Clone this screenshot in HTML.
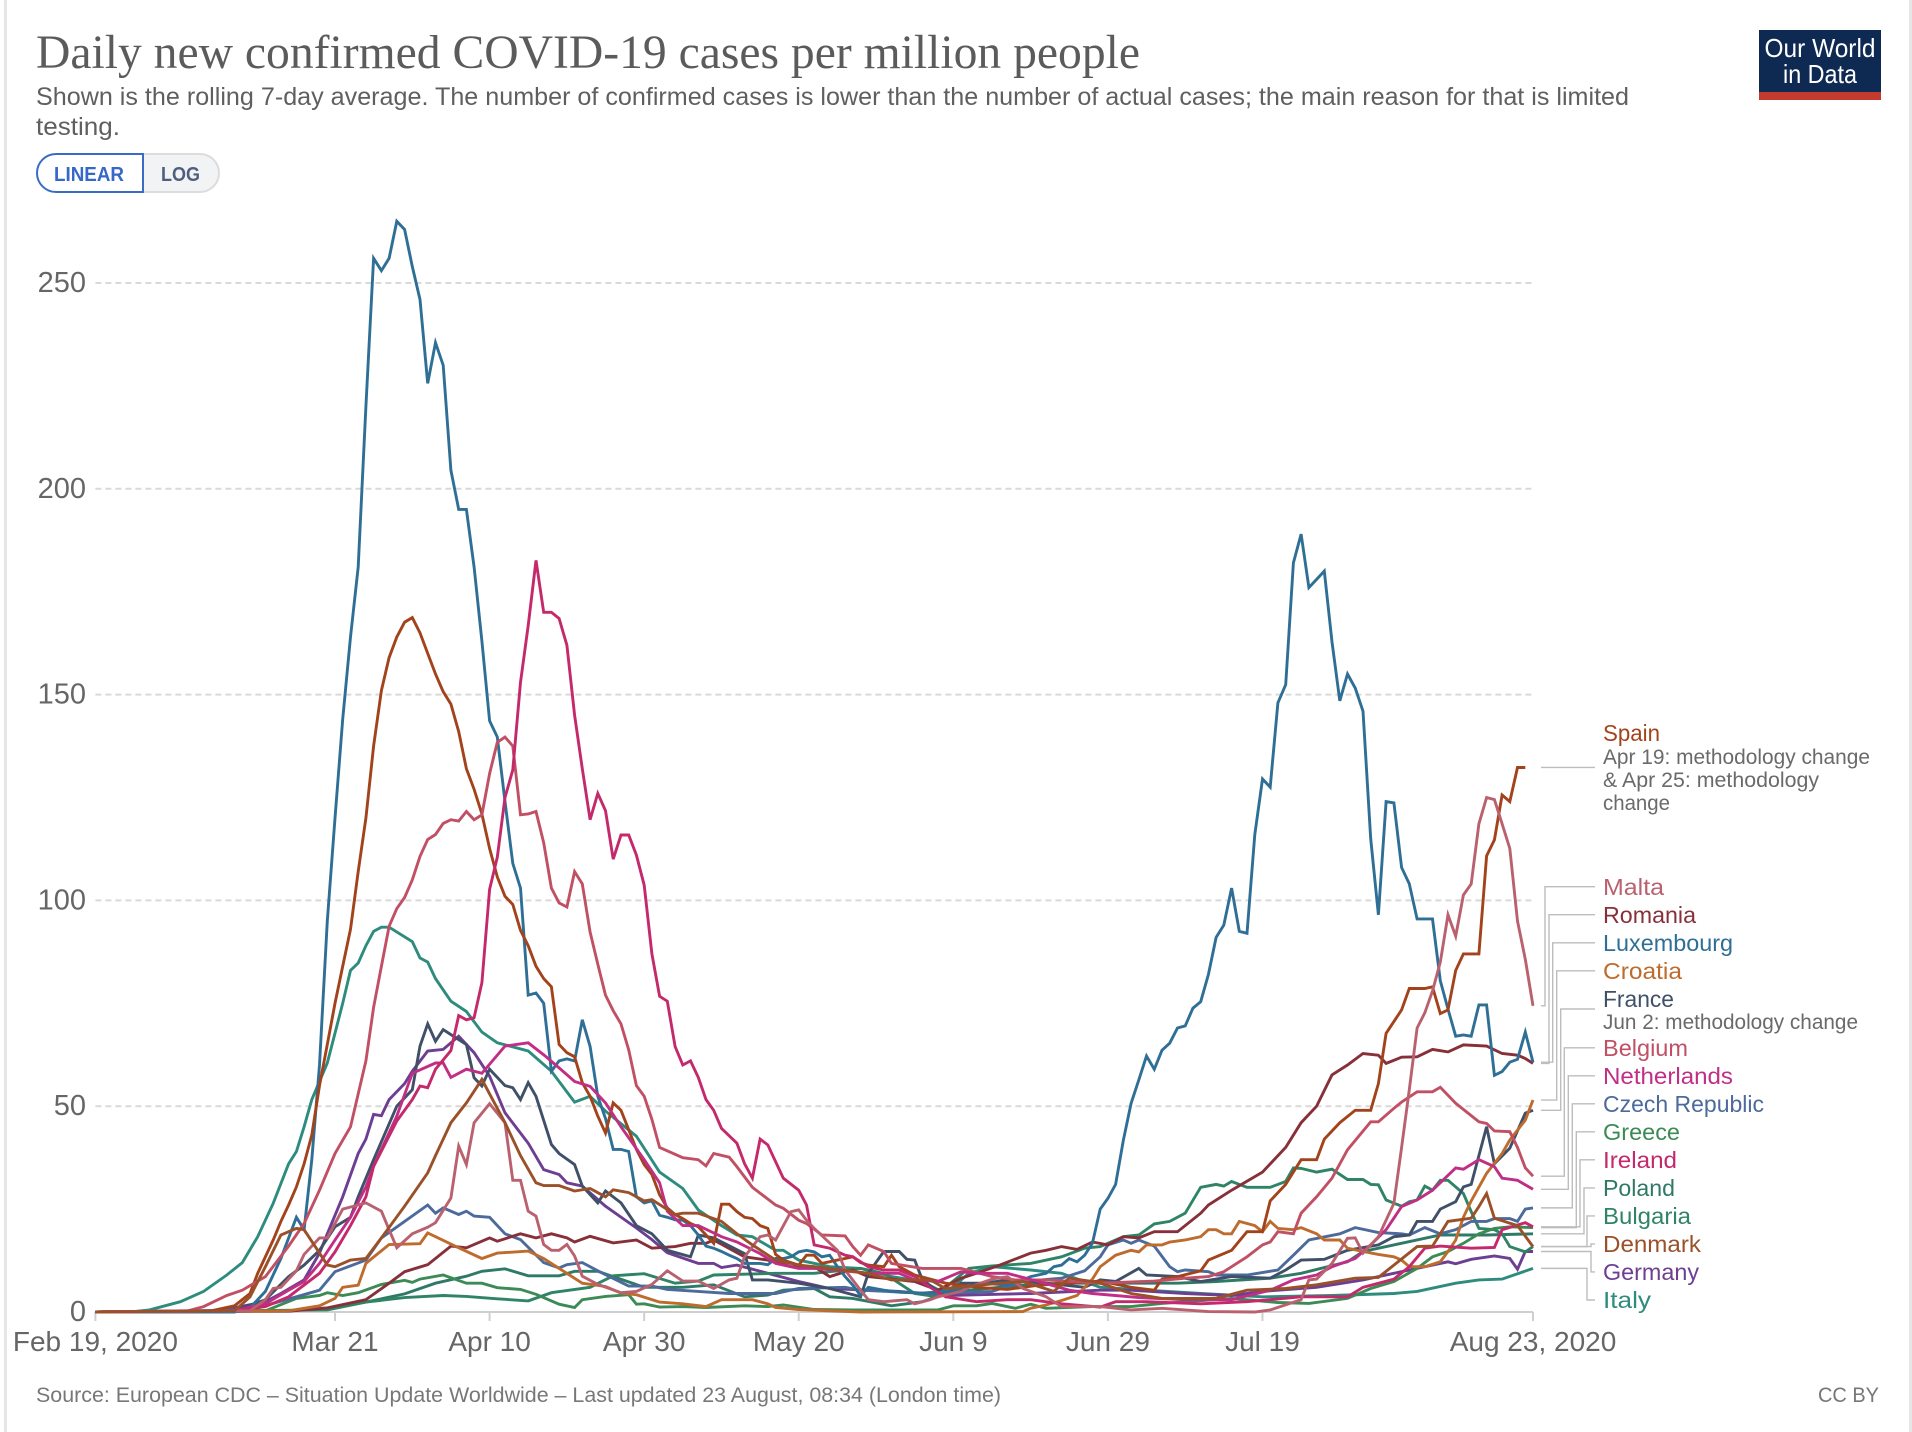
<!DOCTYPE html>
<html lang="en">
<head>
<meta charset="utf-8">
<title>Daily new confirmed COVID-19 cases per million people</title>
<style>
html,body{margin:0;padding:0;background:#fff;width:1912px;height:1432px;overflow:hidden}
svg{display:block}
text{font-family:"Liberation Sans",sans-serif}
.lbl{font-size:23px}
.note{font-size:21px;fill:#6a6a6a}
</style>
</head>
<body>
<svg id="chart" xmlns="http://www.w3.org/2000/svg" width="1912" height="1432" viewBox="0 0 1912 1432">
<rect x="4" y="0" width="3" height="1432" fill="#e6e6e6"/>
<rect x="1909" y="0" width="3" height="1432" fill="#e6e6e6"/>
<text x="36" y="68" font-size="48" textLength="1104" lengthAdjust="spacingAndGlyphs" fill="#5b5b5b" style="font-family:'Liberation Serif',serif">Daily new confirmed COVID-19 cases per million people</text>
<text x="36" y="105" font-size="25" textLength="1593" lengthAdjust="spacingAndGlyphs" fill="#5f5f5f">Shown is the rolling 7-day average. The number of confirmed cases is lower than the number of actual cases; the main reason for that is limited</text>
<text x="36" y="135" font-size="25" textLength="84" lengthAdjust="spacingAndGlyphs" fill="#5f5f5f">testing.</text>
<g>
<path d="M143 154H200a19 19 0 0 1 0 38H143Z" fill="#f2f3f5" stroke="#dcdcdc" stroke-width="2"/>
<path d="M143 154H56a19 19 0 0 0 0 38H143Z" fill="#fff" stroke="#3a6cc6" stroke-width="2"/>
<text x="54" y="181" font-size="20" font-weight="bold" textLength="70" lengthAdjust="spacingAndGlyphs" fill="#3568c9">LINEAR</text>
<text x="161" y="181" font-size="20" font-weight="bold" textLength="39" lengthAdjust="spacingAndGlyphs" fill="#4e5f7e">LOG</text>
</g>
<g>
<rect x="1759" y="30" width="122" height="62" fill="#0e2a52"/>
<rect x="1759" y="92" width="122" height="8" fill="#c23b2e"/>
<text x="1820" y="57" font-size="26" text-anchor="middle" textLength="111" lengthAdjust="spacingAndGlyphs" fill="#fff">Our World</text>
<text x="1820" y="83" font-size="26" text-anchor="middle" textLength="74" lengthAdjust="spacingAndGlyphs" fill="#fff">in Data</text>
</g>
<g id="grid"></g>
<g id="axes"></g>
<g id="connectors"></g>
<g id="series"></g>
<g id="legend">
<text class="lbl" x="1603" y="741" textLength="57" lengthAdjust="spacingAndGlyphs" fill="#a2431c" data-series="spain">Spain</text>
<text class="note" x="1603" y="764" textLength="267" lengthAdjust="spacingAndGlyphs">Apr 19: methodology change</text>
<text class="note" x="1603" y="787" textLength="216" lengthAdjust="spacingAndGlyphs">&amp; Apr 25: methodology</text>
<text class="note" x="1603" y="810" textLength="67" lengthAdjust="spacingAndGlyphs">change</text>
<text class="lbl" x="1603" y="895" textLength="61" lengthAdjust="spacingAndGlyphs" fill="#b9616f" data-series="malta" data-elbow="1545" data-anchor="886.7">Malta</text>
<text class="lbl" x="1603" y="923" textLength="93" lengthAdjust="spacingAndGlyphs" fill="#883039" data-series="romania" data-elbow="1549" data-anchor="914.7">Romania</text>
<text class="lbl" x="1603" y="951" textLength="130" lengthAdjust="spacingAndGlyphs" fill="#2f6f96" data-series="luxembourg" data-elbow="1552.7" data-anchor="942.8">Luxembourg</text>
<text class="lbl" x="1603" y="979" textLength="79" lengthAdjust="spacingAndGlyphs" fill="#be6b2e" data-series="croatia" data-elbow="1556.7" data-anchor="970.8">Croatia</text>
<text class="lbl" x="1603" y="1007" textLength="71" lengthAdjust="spacingAndGlyphs" fill="#3f5068" data-series="france" data-elbow="1560.7" data-anchor="1009">France</text>
<text class="note" x="1603" y="1029" textLength="255" lengthAdjust="spacingAndGlyphs">Jun 2: methodology change</text>
<text class="lbl" x="1603" y="1056" textLength="85" lengthAdjust="spacingAndGlyphs" fill="#c15065" data-series="belgium" data-elbow="1564.3" data-anchor="1047.8">Belgium</text>
<text class="lbl" x="1603" y="1084" textLength="130" lengthAdjust="spacingAndGlyphs" fill="#c02f85" data-series="netherlands" data-elbow="1568.3" data-anchor="1075.8">Netherlands</text>
<text class="lbl" x="1603" y="1112" textLength="161" lengthAdjust="spacingAndGlyphs" fill="#4c6a9c" data-series="czech" data-elbow="1572.3" data-anchor="1103.8">Czech Republic</text>
<text class="lbl" x="1603" y="1140" textLength="77" lengthAdjust="spacingAndGlyphs" fill="#3c8a55" data-series="greece" data-elbow="1576.3" data-anchor="1131.8">Greece</text>
<text class="lbl" x="1603" y="1168" textLength="74" lengthAdjust="spacingAndGlyphs" fill="#c4296b" data-series="ireland" data-elbow="1580" data-anchor="1159.8">Ireland</text>
<text class="lbl" x="1603" y="1196" textLength="72" lengthAdjust="spacingAndGlyphs" fill="#2f7a66" data-series="poland" data-elbow="1584" data-anchor="1187.9">Poland</text>
<text class="lbl" x="1603" y="1224" textLength="88" lengthAdjust="spacingAndGlyphs" fill="#2f8465" data-series="bulgaria" data-elbow="1587" data-anchor="1215.9">Bulgaria</text>
<text class="lbl" x="1603" y="1252" textLength="98" lengthAdjust="spacingAndGlyphs" fill="#9a5129" data-series="denmark" data-elbow="1591" data-anchor="1243.9">Denmark</text>
<text class="lbl" x="1603" y="1280" textLength="96" lengthAdjust="spacingAndGlyphs" fill="#6d3e91" data-series="germany" data-elbow="1591" data-anchor="1271.9">Germany</text>
<text class="lbl" x="1603" y="1308" textLength="48" lengthAdjust="spacingAndGlyphs" fill="#2d8c7d" data-series="italy" data-elbow="1587" data-anchor="1300">Italy</text>
</g>
<text x="36" y="1402" font-size="21" textLength="965" lengthAdjust="spacingAndGlyphs" fill="#777">Source: European CDC – Situation Update Worldwide – Last updated 23 August, 08:34 (London time)</text>
<text x="1879" y="1402" font-size="21" text-anchor="end" textLength="61" lengthAdjust="spacingAndGlyphs" fill="#777">CC BY</text>
</svg>
<script>
const xTickDays = [0, 31, 51, 71, 91, 111, 131, 151, 186];
const xTickLabels = ["Feb 19, 2020", "Mar 21", "Apr 10", "Apr 30", "May 20", "Jun 9", "Jun 29", "Jul 19", "Aug 23, 2020"];
const yTickValues = [0, 50, 100, 150, 200, 250];

const spainDays = [0,15,18,20,21,22,23,24,25,26,27,28,29,30,31,32,33,34,35,36,37,38,39,40,41,42,43,44,45,46,47,48,49,50,51,52,53,54,55,56,57,58,59,60,61,62,63,64,65,66,67,68,69,70,71,72,73,74,75,76,77,78,79,80,81,82,83,84,85,86,87,88,89,91,92,93,94,96,97,98,99,100,102,103,104,106,110,114,118,122,126,130,134,137,138,140,143,144,147,149,151,152,154,156,158,159,161,163,165,166,167,169,170,172,173,174,175,176,177,179,180,181,182,183,184,185];
const spainValues = [0,0.3,1.5,4.5,9.4,13.4,17.5,22,26,30.4,36,43,55,65,75,84,93,107,120,137.5,151,159,164,167.6,168.7,165,160,155,150.7,147.7,141,132,127,121,112.6,105.7,101,99,92.7,89,84,81,79,65,63,62,55.7,52.4,47.6,43.5,50.8,49,44.3,39.5,35.8,33.4,28.5,25.3,23.7,22.7,21.5,20.7,18.7,16.7,26.2,26.2,24.4,23,22.7,21,20.3,14,12.6,11.4,13.8,13.8,11.8,12.6,13,13.4,12,11.4,11,13.8,11,9,7,6,5.5,6.5,7,7.5,6,5.3,8,8.6,10,12.6,15,19.5,19.5,27,31,37,37,42,46,49,49,55.5,67.7,73.4,78.6,78.6,79,72.5,73.4,83,87,87,110.8,114.7,125.6,124,132.3,132.3];

const maltaDays = [0,20,22,23,24,26,27,29,30,32,34,35,37,38,39,41,43,44,46,47,48,49,51,53,54,55,56,57,58,59,60,61,62,63,65,68,70,72,74,76,78,80,82,83,84,86,87,88,90,91,92,93,96,97,99,100,102,105,106,108,109,112,113,116,118,120,123,125,128,130,134,138,144,150,152,156,157,158,160,162,163,164,166,168,169,170,171,172,173,174,175,176,177,178,179,180,181,182,183,184,185,186];
const maltaValues = [0,0.3,3,5.7,6,10,14,18,18,25,26,26.5,24.5,20,15.6,19,20.6,21.7,27.7,40.3,35.8,46,50.6,46,32,32,24.5,23.3,16.4,15,15,16.4,13.6,8.7,6.7,4.7,5,6.7,10,7.5,7.5,5.7,7.8,8.2,13.4,18.3,18.7,17.5,24.4,24.8,22.3,20.3,15,10.2,5.3,3,2.5,3,2,3,3.7,5,6,8,8.6,5.7,3.7,1.3,1.3,1.3,0.5,0.9,0.1,0,0.5,3,7.8,8,11.8,17.9,18,14.3,18.3,26.4,40,54,69,72.7,78,85,96.5,91.3,101.3,104,118.6,125,124.5,118.6,112.6,95,85.7,74.4];

const romaniaDays = [0,25,30,35,38,40,43,46,48,51,52,55,57,59,61,62,64,67,70,72,75,77,79,80,84,87,90,93,95,97,98,100,102,106,109,112,114,117,121,123,125,127,129,131,133,135,137,140,143,144,147,151,154,156,158,160,162,164,166,167,169,171,173,175,177,180,182,184,185,186];
const romaniaValues = [0,0.2,1,3,7,9.8,11.5,16,15.6,18,17.2,19,18,19,18,17,18.4,16.8,17.5,15.5,15.9,16.7,16.7,17.5,13.4,12.6,11,11,8.6,9.8,10.2,8.6,8.2,7.4,5.3,8.2,9.4,11.4,14.3,15,15.9,15.2,17,16.3,18.3,18,19.5,19.5,24,26,29.6,34,40,46,50,57.6,60,62.8,62.4,60.4,61.9,62,63.8,63.2,64.9,64.6,62.8,62.4,61.6,60.4];

const luxembourgDays = [0,18,20,22,24,26,27,28,29,30,31,32,33,34,35,36,37,38,39,40,41,42,43,44,45,46,47,48,49,50,51,52,53,54,55,56,57,58,59,60,61,62,63,64,65,66,67,68,69,70,71,72,73,74,75,76,77,78,79,80,81,82,83,84,85,86,87,88,89,90,91,92,93,94,95,96,97,98,99,100,102,104,107,110,113,115,118,120,121,123,124,125,126,127,128,129,130,131,132,133,134,135,136,137,138,139,140,141,142,143,144,145,146,147,148,149,150,151,152,153,154,155,156,157,158,159,160,161,162,163,164,165,166,167,168,169,170,171,172,173,174,175,176,177,178,179,180,181,182,183,184,185,186];
const luxembourgValues = [0,0,1,5,13,23,20,37,60,95,120,144,164,181,220,256,253,256,265,263,254,246,225.6,235.5,230,204.5,195,195,181,163,143.6,139.7,124,109,103,77,77.5,75,58.5,61,61.5,61,71,64.5,52.4,47,39.5,39.5,39,28,26.5,27,23.5,23,22.4,22.3,21,18.7,16,15.5,14.7,13.8,13,11.8,11.8,11.8,11.5,13,13,13.4,14.6,15,14.6,13.4,13.8,11,8.6,6.5,4,6,5.3,4.8,4.6,5,6,7,6.5,7.8,8.6,9.4,11,11.4,13,12.2,13.8,16.7,25,27.6,31,41.8,50.7,56.4,62.2,59,63.6,65.3,69,69.5,73.8,75.4,82,91,94,103,92.5,92,116,129.5,127.5,148,152.4,182,189,176,178,180,162.8,148.5,155,151.6,146,115,96.5,124,123.7,108,104,95.5,95.5,95.5,80.5,73.6,67,67.3,67,74.6,74.6,57.5,58.4,60.7,61.4,68,60.7];

const croatiaDays = [0,25,29,31,32,34,35,38,42,43,47,50,52,56,58,60,63,66,68,70,73,76,79,81,85,87,88,91,99,120,121,123,125,127,129,130,132,134,135,136,138,139,141,143,144,145,146,147,148,150,151,152,153,155,156,158,159,161,162,164,166,168,169,170,172,174,175,176,177,178,180,182,183,185,186];
const croatiaValues = [0,0.3,1.5,3.3,6,6.5,11.8,16.4,16.6,19.2,15.6,13,14.3,14.8,13,10.6,7,6.2,4.6,4.2,2.4,2,1.3,3,3,2,1.1,0.6,0,0.1,0.9,1.7,2.8,4,8,11,13.8,15,14.6,16.3,16.3,17,17.5,18.3,20,20,19,19,22,21,19.5,22,20.3,20,20.5,19,17.5,17.5,15.5,14.7,14,13.4,12.6,11,11,12.2,14.7,17.5,23,27,33.7,38.5,41.8,46.6,51.5];

const franceDays = [0,18,22,25,27,29,31,33,34,36,39,41,42,43,44,45,48,49,50,51,53,54,55,56,57,59,60,62,63,65,66,68,70,72,74,77,78,80,84,85,87,91,95,99,100,102,104,105,106,107,110,112,115,118,121,125,128,130,132,135,136,140,143,147,152,154,156,159,162,166,168,170,171,173,174,176,177,178,180,181,183,185,186];
const franceValues = [0,0.3,3,8.6,11.4,15,20.7,23,28,37,50,54,64.6,70,65.8,68.6,65,56.9,54.9,59,55,54.5,51.6,55.7,52.4,40.7,38.5,35.8,30.6,26.5,29.4,26.5,21,19,15,13.4,18.7,18,14.2,7.8,7.8,7,5.7,3.7,9.4,14.7,14.7,12.8,12.6,7.8,3.7,7,7,7.8,7.4,6.6,6,7.8,7.4,10.6,9,8.6,7.4,8.6,8.2,10.2,12.6,12.8,15,16.3,18.3,18.7,22,22,25,26.8,30.4,31,45,36,39.8,48.3,49];

const belgiumDays = [0,12,14,17,19,22,25,27,29,31,33,35,36,37,38,39,40,41,42,43,44,45,46,47,48,49,50,51,52,53,54,55,56,57,58,59,60,61,62,63,64,65,66,67,68,69,70,71,72,73,76,78,79,80,82,83,85,88,89,91,92,94,97,98,99,100,102,103,107,112,116,119,123,130,137,141,144,146,149,151,152,153,155,156,158,160,162,165,166,168,169,171,173,174,176,179,180,181,183,184,185,186];
const belgiumValues = [0,0.3,1.3,4,5.3,8.6,16,21.5,29.6,38.5,45,61,74,84,93.7,98,100.7,105,110.7,114.8,116,118.7,119.6,119.3,121.6,119.6,120.8,130.8,138.4,139.7,137.5,120.8,121,121.6,114,103,99.4,98.4,107,104,92.3,84.5,77,73.2,70,63.7,55,52.4,46.8,40,37.5,37,35.5,38.5,37.6,35.3,30.3,26,25.2,22.3,21.5,18.7,18.5,15.9,13.8,16.3,14.7,11.8,10.6,10.6,8.6,7.8,7.8,7,7.5,8.2,8.6,9.8,13.4,16.3,17,19.5,19,24,28,32.5,39.4,46.2,46.2,49.5,51,53.5,53.5,54.6,50.7,46.2,45.8,44,43.8,40,35,33];

const netherlandsDays = [0,18,22,25,27,29,31,33,35,36,39,41,44,45,46,48,50,53,56,58,60,62,64,66,68,71,73,74,76,78,81,83,86,88,91,93,96,100,104,106,109,112,114,118,122,126,129,135,141,147,152,155,158,160,163,165,167,169,171,173,176,177,179,181,182,184,186];
const netherlandsValues = [0,0.3,2,5.3,7.4,11.8,17.5,23,30.4,35.4,47.6,58,60.5,60.5,57,59,58,64.6,65.4,62.5,59.3,56,54.8,50.8,45,37,31.4,24.5,21,21,18.3,17,14.2,11.8,10.6,10.6,10.2,9.4,9.4,7.8,7.4,9.8,9.4,9.4,7.4,5.3,4.5,3.5,3,3,5.3,7.8,9,11,13,16.3,20,25.6,27.2,29.6,35,34.7,37,35.3,32.5,32,29.8];

const czechDays = [0,20,26,29,31,35,37,40,43,44,45,47,48,49,51,53,55,58,60,61,63,65,69,72,74,78,82,88,91,97,99,108,116,120,125,128,130,131,133,134,135,137,139,140,141,144,145,149,153,155,157,161,163,166,169,170,172,174,176,178,180,181,183,184,185,186];
const czechValues = [0,0.5,3.7,5.3,9.8,12.6,18,22,26,24,25.3,23.7,24.5,23.3,23,19,17.6,12,10.7,11.5,12,10,6.3,6.3,5.5,5,4.5,4.5,5.7,6,5.3,4.5,5,7.4,8.2,10,13.4,16.3,17.5,16.7,17.5,16,11,9.8,10.2,9.8,9,9,10.2,13.8,17.5,19,20.5,19.3,19,18.7,20.5,19,20,22,22,22.7,22.7,22,25,25.3];

const greeceDays = [0,22,26,29,30,32,34,37,40,41,42,45,48,50,52,55,57,60,62,63,66,69,70,71,73,76,79,84,87,89,93,98,109,111,114,116,119,121,123,129,134,138,147,153,157,162,165,168,171,173,175,177,179,181,183,186];
const greeceValues = [0,0.3,3.3,4,4.7,4,4.7,6.7,7.7,7.2,8,9,7,7,5.9,5.5,4.3,1.9,1.1,3,3.8,4.2,1.9,2,1.2,1.3,1.1,1.5,1.3,1.7,0.6,0.5,0.5,1.5,1.5,2.1,0.9,1.9,0.9,1.3,1.3,2.1,3.3,2.3,2.1,3.3,5.7,7.4,10.6,13.4,14.7,16.7,19,20.3,20.7,20.5];

const irelandDays = [0,18,22,25,29,31,33,35,36,39,41,42,43,44,46,47,48,49,50,51,52,53,54,55,56,57,58,59,60,61,62,63,64,65,66,67,68,69,70,71,72,73,74,75,76,77,78,79,80,81,83,84,85,86,87,89,91,92,93,95,97,98,100,102,104,106,108,110,114,118,121,125,130,132,136,143,149,156,162,164,168,170,172,174,178,181,182,185,186];
const irelandValues = [0,0.3,1.3,3.7,9.4,14.6,21,28,35.4,46.4,51.6,54.9,54.5,59,63.5,72,71,71.5,80,102.7,110.5,125,131.7,153,166.8,182.6,170,170,168.5,162,145,132,119.6,126,121.8,110,115.9,115.9,111,103.7,87,76.7,75.5,64.5,60,61,57,51.6,49,44.6,41,36,32.5,42,40.6,32.5,29.6,26,16.3,15.5,13.8,13.4,11,10.2,10.2,8.6,6,3.7,2.5,3,3,2,1.2,2.5,2.5,2,2.5,3.7,3.7,6,8,11,15.5,16,15.5,15.7,20,21.7,20.7];

const polandDays = [0,25,30,35,40,44,48,50,53,56,60,62,65,67,71,76,80,84,87,89,93,95,98,103,107,110,114,120,125,130,135,140,145,152,156,162,164,168,174,180,186];
const polandValues = [0,0.3,1,2.4,4.4,7,8.7,9.9,10.5,8.8,8.8,9.9,9.9,8.6,6,6,6.6,3.7,4.1,5.3,5.7,3.7,3.3,1.5,2.5,4.5,5.5,6.5,7,7,7,7,7.4,8.2,9.4,12.2,14.7,16.3,18.7,18.7,19];

const bulgariaDays = [0,30,35,40,45,48,52,56,59,64,67,71,75,78,80,88,93,99,102,106,109,110,113,116,121,125,128,130,133,135,137,139,141,143,145,146,147,149,152,154,155,156,158,160,162,164,165,166,167,169,170,171,172,173,174,175,177,178,179,181,182,183,185,186];
const bulgariaValues = [0,0.5,2.4,3.5,4,3.8,3.2,2.7,4.7,6,8.8,9.3,7,7.5,9,9.4,9.4,10.6,9.4,4.5,3.7,6,10.6,11.2,11.8,13.4,15.5,15.9,18.3,18.7,21.4,22,24,30.3,31,30.6,31.7,30.3,30.3,31.7,35,34.9,34,34.7,32.2,32.2,31,30.9,27.2,25.7,26.8,27.2,30.6,29.6,32,32,28.8,24.4,20.3,20,19,15.9,14.6,15.9];

const denmarkDays = [0,18,20,22,24,26,27,29,30,31,33,35,37,40,43,44,46,48,50,51,53,55,57,58,60,62,64,66,67,69,71,72,75,76,78,81,83,85,88,91,95,100,103,108,110,117,120,124,126,129,130,134,138,145,149,154,158,163,166,168,171,173,175,178,179,180,181,184,186];
const denmarkValues = [0,0.3,3.7,11,18.7,20.3,20,14.3,11.4,11,12.6,13,18,25.7,33.8,38,46,50.8,56.5,53,46,38,31.4,30.7,30.7,29.4,30,28,29.7,29,27,27.3,23.7,24,24,22,19,16.3,12.6,11.4,10.6,9.4,7.8,7.8,5.7,7,7.4,5,8.2,7.4,7,4.5,3.3,3.3,5.3,5.7,6.6,8.2,8.4,11.4,15.9,16,22,22.8,25.6,28.8,22.8,21,15.9];

const germanyDays = [0,16,22,24,27,29,30,32,34,35,36,37,38,40,41,43,45,47,49,51,53,56,58,60,61,63,66,70,72,74,78,80,81,83,87,91,95,100,104,110,121,130,134,141,147,151,158,164,168,173,175,176,178,181,183,184,185,186];
const germanyValues = [0,0.3,2.5,4.5,7.8,14.3,19,28,38.5,42,48,47.7,51.6,55.5,58.5,63.4,63.8,67,63,57.3,48.4,41,34.6,33.4,31.4,30.6,25.7,20.4,17.6,14.4,11.8,11.8,10.8,11.4,9.4,7.4,5.7,5.3,5,4,4.5,5.3,5.3,4.5,4,5,6,7.8,9.4,11.4,12.2,11.7,12.8,13.6,13,10.4,14.7,14.7];

const italyDays = [0,5,7,11,14,17,19,21,23,25,26,27,28,30,32,33,34,35,36,37,38,41,42,43,44,46,48,50,52,56,59,62,64,66,70,73,76,78,81,83,85,88,89,91,95,99,103,107,110,113,116,121,125,130,143,151,160,168,171,176,179,182,186];
const italyValues = [0,0.1,0.5,2.5,5,9,12,18.3,26.4,36,39,45,51.6,60.5,75,83,84.8,89,92.5,93.5,93.5,90,86,85,81,75.5,73,68,65.4,63.4,58.5,51,52.4,48.8,42.7,34,30,24.8,21,18.7,18.3,15,15,12.6,11,10.6,8.6,7.4,4.5,9.4,11,10.2,9.4,6,4.5,3.7,4,4.5,5,7,7.8,8,10.6];

const NS = 'http://www.w3.org/2000/svg';
const dayDomainEnd = 186;
function xScale(day) { return 95.4 + (day / dayDomainEnd) * (1533 - 95.4); }
function yScale(value) { return 1312 - value * 4.116; }

const seriesList = [
  { key: 'italy', color: '#2d8c7d', days: italyDays, values: italyValues },
  { key: 'germany', color: '#6d3e91', days: germanyDays, values: germanyValues },
  { key: 'poland', color: '#2f7a66', days: polandDays, values: polandValues },
  { key: 'bulgaria', color: '#2f8465', days: bulgariaDays, values: bulgariaValues },
  { key: 'greece', color: '#3c8a55', days: greeceDays, values: greeceValues },
  { key: 'czech', color: '#4c6a9c', days: czechDays, values: czechValues },
  { key: 'romania', color: '#883039', days: romaniaDays, values: romaniaValues },
  { key: 'france', color: '#3f5068', days: franceDays, values: franceValues },
  { key: 'croatia', color: '#be6b2e', days: croatiaDays, values: croatiaValues },
  { key: 'luxembourg', color: '#2f6f96', days: luxembourgDays, values: luxembourgValues },
  { key: 'spain', color: '#a2431c', days: spainDays, values: spainValues },
  { key: 'belgium', color: '#c15065', days: belgiumDays, values: belgiumValues },
  { key: 'netherlands', color: '#c02f85', days: netherlandsDays, values: netherlandsValues },
  { key: 'ireland', color: '#c4296b', days: irelandDays, values: irelandValues },
  { key: 'malta', color: '#b9616f', days: maltaDays, values: maltaValues },
  { key: 'denmark', color: '#9a5129', days: denmarkDays, values: denmarkValues }
];

const gridGroup = document.getElementById('grid');
const axesGroup = document.getElementById('axes');
const seriesGroup = document.getElementById('series');
const connectorGroup = document.getElementById('connectors');

yTickValues.forEach(function (value) {
  if (value > 0) {
    const line = document.createElementNS(NS, 'line');
    line.setAttribute('x1', 95.4);
    line.setAttribute('x2', 1533);
    line.setAttribute('y1', yScale(value));
    line.setAttribute('y2', yScale(value));
    line.setAttribute('stroke', '#d9d9d9');
    line.setAttribute('stroke-width', '2');
    line.setAttribute('stroke-dasharray', '6 4');
    
    
    gridGroup.appendChild(line);
  }
  const label = document.createElementNS(NS, 'text');
  label.setAttribute('x', 86);
  label.setAttribute('y', yScale(value) + 9);
  label.setAttribute('text-anchor', 'end');
  label.setAttribute('font-size', '29');
  label.setAttribute('fill', '#666');
  label.textContent = String(value);
  
  
  axesGroup.appendChild(label);
});

const xAxisLine = document.createElementNS(NS, 'line');
xAxisLine.setAttribute('x1', xScale(0));
xAxisLine.setAttribute('x2', xScale(dayDomainEnd));
xAxisLine.setAttribute('y1', 1312);
xAxisLine.setAttribute('y2', 1312);
xAxisLine.setAttribute('stroke', '#cfcfcf');
xAxisLine.setAttribute('stroke-width', '2');


axesGroup.appendChild(xAxisLine);

xTickDays.forEach(function (day, i) {
  const tick = document.createElementNS(NS, 'line');
  tick.setAttribute('x1', xScale(day));
  tick.setAttribute('x2', xScale(day));
  tick.setAttribute('y1', 1312);
  tick.setAttribute('y2', 1321);
  tick.setAttribute('stroke', '#cfcfcf');
  tick.setAttribute('stroke-width', '2');
  
  
  axesGroup.appendChild(tick);
  const label = document.createElementNS(NS, 'text');
  label.setAttribute('x', xScale(day));
  label.setAttribute('y', 1351);
  label.setAttribute('text-anchor', 'middle');
  label.setAttribute('font-size', '28');
  label.setAttribute('fill', '#666');
  label.textContent = xTickLabels[i];
  
  
  axesGroup.appendChild(label);
});

seriesList.forEach(function (s) {
  const n = Math.min(s.days.length, s.values.length);
  let d = '';
  for (let i = 0; i < n; i++) {
    d += (i ? 'L' : 'M') + xScale(s.days[i]).toFixed(1) + ' ' + yScale(s.values[i]).toFixed(1);
  }
  const path = document.createElementNS(NS, 'path');
  path.setAttribute('d', d);
  path.setAttribute('fill', 'none');
  path.setAttribute('stroke', s.color);
  path.setAttribute('stroke-width', '2.9');
  path.setAttribute('stroke-linejoin', 'miter');
  
  
  seriesGroup.appendChild(path);

  const entry = document.querySelector('#legend [data-series="' + s.key + '"]');
  if (!entry) return;
  const startY = yScale(s.values[n - 1]);
  const elbow = entry.getAttribute('data-elbow');
  const anchor = entry.getAttribute('data-anchor');
  const points = elbow
    ? ['M1541', startY, 'H', elbow, 'V', anchor, 'H1595'].join(' ')
    : ['M1541', startY, 'H1595'].join(' ');
  const connector = document.createElementNS(NS, 'path');
  connector.setAttribute('d', points);
  connector.setAttribute('fill', 'none');
  connector.setAttribute('stroke', '#bdbdbd');
  connector.setAttribute('stroke-width', '1.4');
  
  
  connectorGroup.appendChild(connector);
});
</script>
</body>
</html>
